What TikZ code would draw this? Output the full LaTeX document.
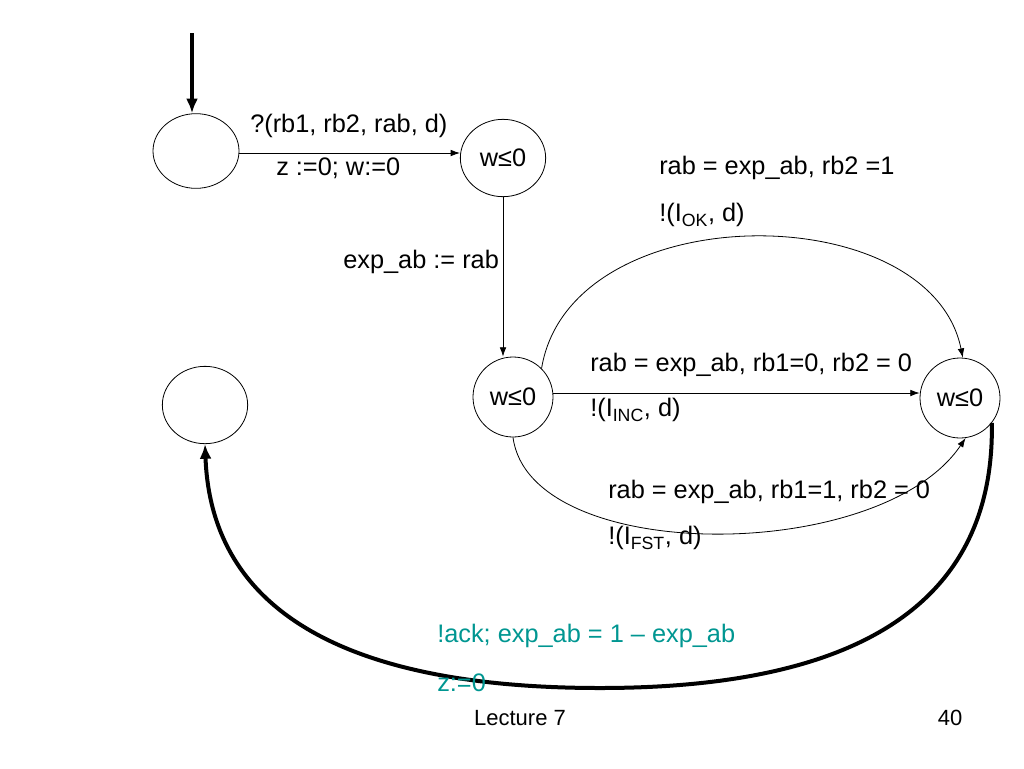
\documentclass[tikz,border=0pt]{standalone}
\usepackage{fontspec}
\setmainfont{Liberation Sans}
\usetikzlibrary{shapes.geometric,arrows.meta}
\definecolor{tealtxt}{RGB}{0,150,145}
\begin{document}
\begin{tikzpicture}[x=0.75pt,y=-0.75pt,
  state/.style={draw,ellipse,line width=0.6pt,inner sep=0pt,font=\fontsize{19}{22}\selectfont},
  lbl/.style={anchor=west,inner sep=0pt,font=\fontsize{19}{22}\selectfont},
  foot/.style={inner sep=0pt,font=\fontsize{16.5}{19}\selectfont},
  edge/.style={line width=0.6pt,-{Latex[length=7pt,width=5pt]}},
  thickedge/.style={line width=3pt,-{Latex[length=11pt,width=9pt]}}]
\useasboundingbox (0,0) rectangle (1024,768);
\node[state,minimum width=64.5pt,minimum height=56pt] (A) at (196,151) {};
\node[state,minimum width=64pt,minimum height=58pt] (B) at (503,158) {w≤0};
\node[state,minimum width=60pt,minimum height=60pt] (C) at (513,397) {w≤0};
\node[state,minimum width=60pt,minimum height=60pt] (D) at (960,398) {w≤0};
\node[state,minimum width=64pt,minimum height=58pt] (E) at (205,405) {};
\coordinate (init) at (192,33);
\coordinate (low) at (600,688);
\draw[thickedge] (init) -- (init |- A.north);
\draw[edge] (A.east |- 0,153) -- (B.west |- 0,153);
\node[lbl] (l1) at (250,126) {?(rb1, rb2, rab, d)};
\node[lbl] (l2) at (276,168) {z :=0; w:=0};
\draw[edge] (B.south) -- (B.south |- C.north);
\node[lbl] (l3) at (343,262) {exp\_ab := rab};
\draw[edge] (C.45) .. controls (570,195) and (930,195) .. (D.86);
\node[lbl] (l4) at (659,168) {rab = exp\_ab, rb2 =1};
\node[lbl] (l5) at (659,215) {!(I\textsubscript{OK}, d)};
\draw[edge] (C.east |- 0,393) -- (D.west |- 0,393);
\node[lbl] (l6) at (590,365) {rab = exp\_ab, rb1=0, rb2 = 0};
\node[lbl] (l7) at (590,410) {!(I\textsubscript{INC}, d)};
\draw[edge] (C.south) .. controls (530,565) and (880,565) .. (D.278);
\node[lbl] (l8) at (608,492) {rab = exp\_ab, rb1=1, rb2 = 0};
\node[lbl] (l9) at (608,538) {!(I\textsubscript{FST}, d)};
\draw[thickedge] (D.-38) .. controls (995,615) and (840,688) .. (low)
  .. controls (390,688) and (212,635) .. (E.south);
\node[lbl,text=tealtxt] (l10) at (437,636) {!ack; exp\_ab = 1 – exp\_ab};
\node[lbl,text=tealtxt] (l11) at (437,683) {z:=0};
\node[foot] (f1) at (520,718) {Lecture 7};
\node[foot] (f2) at (950,718) {40};
\end{tikzpicture}
\end{document}
